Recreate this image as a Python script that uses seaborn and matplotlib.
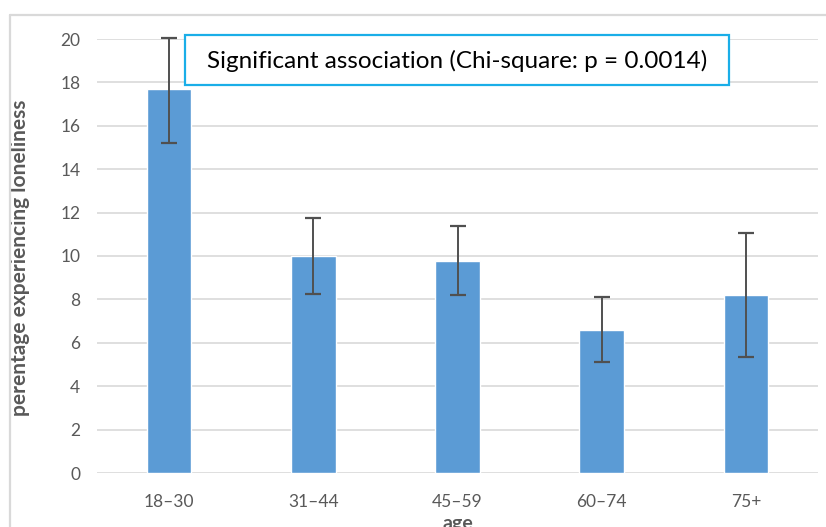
import numpy as np
import pandas as pd
import matplotlib
matplotlib.use("Agg")
import matplotlib.pyplot as plt
from matplotlib.lines import Line2D
from matplotlib.patches import Rectangle
import seaborn as sns

# --- Data ---
age_groups = ["18\u201330", "31\u201344", "45\u201359", "60\u201374", "75+"]
pct_lonely = [17.7, 10.0, 9.75, 6.6, 8.2]
ci_lower = [15.2, 8.25, 8.2, 5.1, 5.35]
ci_upper = [20.05, 11.75, 11.4, 8.1, 11.05]
y_ticks = [0, 2, 4, 6, 8, 10, 12, 14, 16, 18, 20]

BAR_COLOR = "#5b9bd5"
GRID_COLOR = "#d9d9d9"
TEXT_COLOR = "#595959"

sns.set_theme(style="white")
plt.rcParams['font.family'] = ['Lato', 'DejaVu Sans']

df = pd.DataFrame({"age": age_groups, "pct": pct_lonely})

W, H = 826, 527
fig = plt.figure(figsize=(W / 100, H / 100), dpi=100)
ax = fig.add_axes([97 / W, (H - 473) / H, (818 - 97) / W, (473 - 39) / H])

sns.barplot(data=df, x="age", y="pct", color=BAR_COLOR, width=0.31,
            saturation=1, ax=ax, zorder=2)

vals = np.array(pct_lonely)
yerr = np.vstack([vals - np.array(ci_lower), np.array(ci_upper) - vals])
ax.errorbar(np.arange(len(age_groups)), vals, yerr=yerr, fmt="none",
            ecolor="#505050", elinewidth=1.4, capsize=5.5, capthick=1.6,
            zorder=3, clip_on=False)

ax.set_ylim(0, 20)
ax.set_xlim(-0.5, 4.5)
ax.set_yticks(y_ticks)
ax.yaxis.grid(True, color=GRID_COLOR, lw=1.2, zorder=0)
ax.set_axisbelow(True)
for s in ax.spines.values():
    s.set_visible(False)
ax.tick_params(axis="both", length=0, labelsize=12.5, labelcolor=TEXT_COLOR)
ax.tick_params(axis="y", pad=12)
ax.tick_params(axis="x", pad=15)

# x label sits partly below the bottom edge, as in the cropped original
ax.set_xlabel("age", fontsize=14, fontweight="bold", color=TEXT_COLOR)
ax.xaxis.set_label_coords(0.5, -(515 - 473) / (473 - 39))
ax.set_ylabel("perentage experiencing loneliness", fontsize=15,
              fontweight="bold", color=TEXT_COLOR)
ax.yaxis.set_label_coords(-(97 - 30) / (818 - 97), 0.495)

# annotation box
box = Rectangle((185 / W, (H - 85) / H), (729 - 185) / W, (85 - 35) / H,
                transform=fig.transFigure, facecolor="white",
                edgecolor="#1aaee8", lw=1.6, zorder=4)
fig.add_artist(box)
fig.text(0.5 * (185 + 729) / W, (H - 61) / H,
         "Significant association (Chi-square: p = 0.0014)",
         ha="center", va="center", fontsize=17.5, color="black", zorder=5)

# outer chart frame (cropped)
fig.add_artist(Line2D([10 / W, 10 / W], [0, (H - 15) / H], color=GRID_COLOR, lw=1.6))
fig.add_artist(Line2D([10 / W, 1], [(H - 15) / H, (H - 15) / H], color=GRID_COLOR, lw=1.6))

fig.savefig("out.png", dpi=100)
